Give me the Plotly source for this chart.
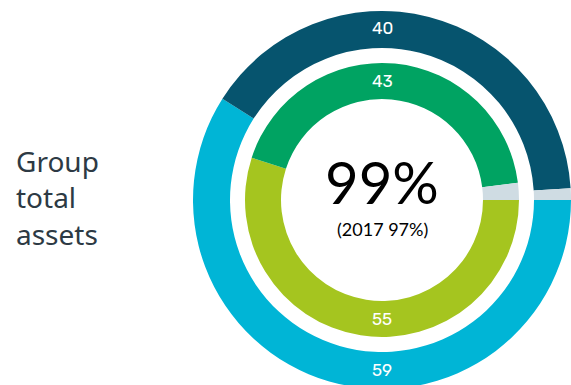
import plotly.graph_objects as go

W, H = 571, 389

outer_labels = ["Outer A", "Outer B", "Outer other"]
outer_values = [59, 40, 1]
outer_colors = ["#00b5d6", "#06546e", "#cfdce3"]

inner_labels = ["Inner A", "Inner B", "Inner other"]
inner_values = [55, 43, 2]
inner_colors = ["#a5c51f", "#00a362", "#cfdce3"]

center_value = "99%"
center_sub = "(2017 97%)"
side_title_lines = ["Group", "total", "assets"]

cx, cy = 382, 200
r_out, r_out_in = 189, 152
r_in, r_in_in = 137, 101


def dom(r):
    return dict(x=[(cx - r) / W, (cx + r) / W],
                y=[(H - cy - r) / H, (H - cy + r) / H])


def py(ypx):
    return (H - ypx) / H


fig = go.Figure()
fig.add_trace(go.Pie(labels=outer_labels, values=outer_values, hole=r_out_in / r_out,
                     sort=False, direction="clockwise", rotation=90,
                     marker=dict(colors=outer_colors, line=dict(width=0)),
                     textinfo="none", hoverinfo="label+value", domain=dom(r_out),
                     showlegend=False))
fig.add_trace(go.Pie(labels=inner_labels, values=inner_values, hole=r_in_in / r_in,
                     sort=False, direction="clockwise", rotation=90,
                     marker=dict(colors=inner_colors, line=dict(width=0)),
                     textinfo="none", hoverinfo="label+value", domain=dom(r_in),
                     showlegend=False))

ann = []
lab_font = dict(family="Rubik, Lato, Noto Sans", size=17, color="white")
ann.append(dict(text=str(outer_values[1]), x=cx / W, y=py(28), font=lab_font))
ann.append(dict(text=str(outer_values[0]), x=cx / W, y=py(370), font=lab_font))
ann.append(dict(text=str(inner_values[1]), x=cx / W, y=py(81), font=lab_font))
ann.append(dict(text=str(inner_values[0]), x=cx / W, y=py(319), font=lab_font))
ann.append(dict(text=center_value, x=cx / W, y=py(182),
                font=dict(family="Lato, Noto Sans", size=58, color="black")))
ann.append(dict(text=center_sub, x=cx / W, y=py(229),
                font=dict(family="Lato, Noto Sans", size=18, color="black")))
ann.append(dict(text="<br>".join(side_title_lines), x=14 / W, y=py(198),
                xanchor="left", align="left",
                font=dict(family="Noto Sans", size=28, color="#2d3a44")))
for a in ann:
    a.update(xref="paper", yref="paper", showarrow=False)
    a.setdefault("xanchor", "center")
    a["yanchor"] = "middle"

fig.update_layout(width=W, height=H, margin=dict(l=0, r=0, t=0, b=0),
                  paper_bgcolor="white", plot_bgcolor="white", annotations=ann)

fig.write_html("out.html",
               post_script="document.documentElement.style.overflow='hidden';document.body.style.overflow='hidden';")
